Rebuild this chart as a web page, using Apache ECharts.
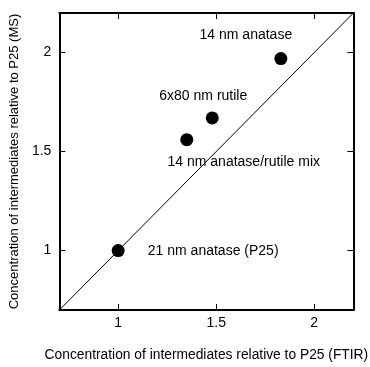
<!DOCTYPE html>
<html>
<head>
<meta charset="utf-8">
<script src="https://cdn.jsdelivr.net/npm/echarts@6/dist/echarts.min.js"></script>
<style>
html,body{margin:0;padding:0;background:#fff;}
#c{width:370px;height:367px;}
</style>
</head>
<body>
<div id="c"></div>
<script>
// Data
const sampleNames = ["21 nm anatase (P25)", "14 nm anatase/rutile mix", "6x80 nm rutile", "14 nm anatase"];
const ftirValues = [1.00, 1.35, 1.48, 1.83];
const msValues = [1.00, 1.56, 1.67, 1.97];
const axisRange = [0.7, 2.2];
const tickValues = [1, 1.5, 2];
const xTitle = "Concentration of intermediates relative to P25 (FTIR)";
const yTitle = "Concentration of intermediates relative to P25 (MS)";

// label offsets (style)
const labelOffsets = [[95, 1], [57, 22], [-9, -22], [-35, -23]];

const font = "Liberation Sans, Arial, sans-serif";
const chart = echarts.init(document.getElementById('c'), null, {renderer: 'canvas'});

function axisBase(pos, showLabel) {
  return {
    type: 'value', position: pos, min: axisRange[0], max: axisRange[1],
    axisLine: {show: true, onZero: false, lineStyle: {color: '#000', width: 2}},
    axisTick: {show: true, inside: true, length: 6, customValues: tickValues, lineStyle: {color: '#000', width: 1}},
    axisLabel: {show: showLabel, customValues: tickValues, color: '#000', fontSize: 14, fontFamily: font,
      formatter: v => String(v)},
    splitLine: {show: false}
  };
}

const xMain = Object.assign(axisBase('bottom', true), {
  name: xTitle, nameLocation: 'middle', nameGap: 38,
  nameTextStyle: {color: '#000', fontSize: 13.8, fontFamily: font}
});
xMain.axisLabel.margin = 6;
const yMain = Object.assign(axisBase('left', true), {
  name: yTitle, nameLocation: 'middle', nameGap: 31,
  nameTextStyle: {color: '#000', fontSize: 13, fontFamily: font}
});
yMain.axisLabel.margin = 8;

const points = ftirValues.map((x, i) => ({
  value: [x, msValues[i]],
  name: sampleNames[i],
  label: {offset: labelOffsets[i]}
}));

chart.setOption({
  animation: false,
  backgroundColor: '#fff',
  grid: {left: 57, top: 13, right: 8, bottom: 47, containLabel: false},
  xAxis: [xMain, axisBase('top', false)],
  yAxis: [yMain, axisBase('right', false)],
  series: [
    {
      type: 'line', xAxisIndex: 0, yAxisIndex: 0,
      data: [[axisRange[0], axisRange[0]], [axisRange[1], axisRange[1]]],
      symbol: 'none', lineStyle: {color: '#000', width: 1}, silent: true
    },
    {
      type: 'scatter', xAxisIndex: 0, yAxisIndex: 0,
      data: points, symbolSize: 13,
      itemStyle: {color: '#000', opacity: 1},
      label: {show: true, position: 'inside', formatter: p => p.name,
        color: '#000', fontSize: 14, fontFamily: font}
    }
  ]
});
</script>
</body>
</html>
